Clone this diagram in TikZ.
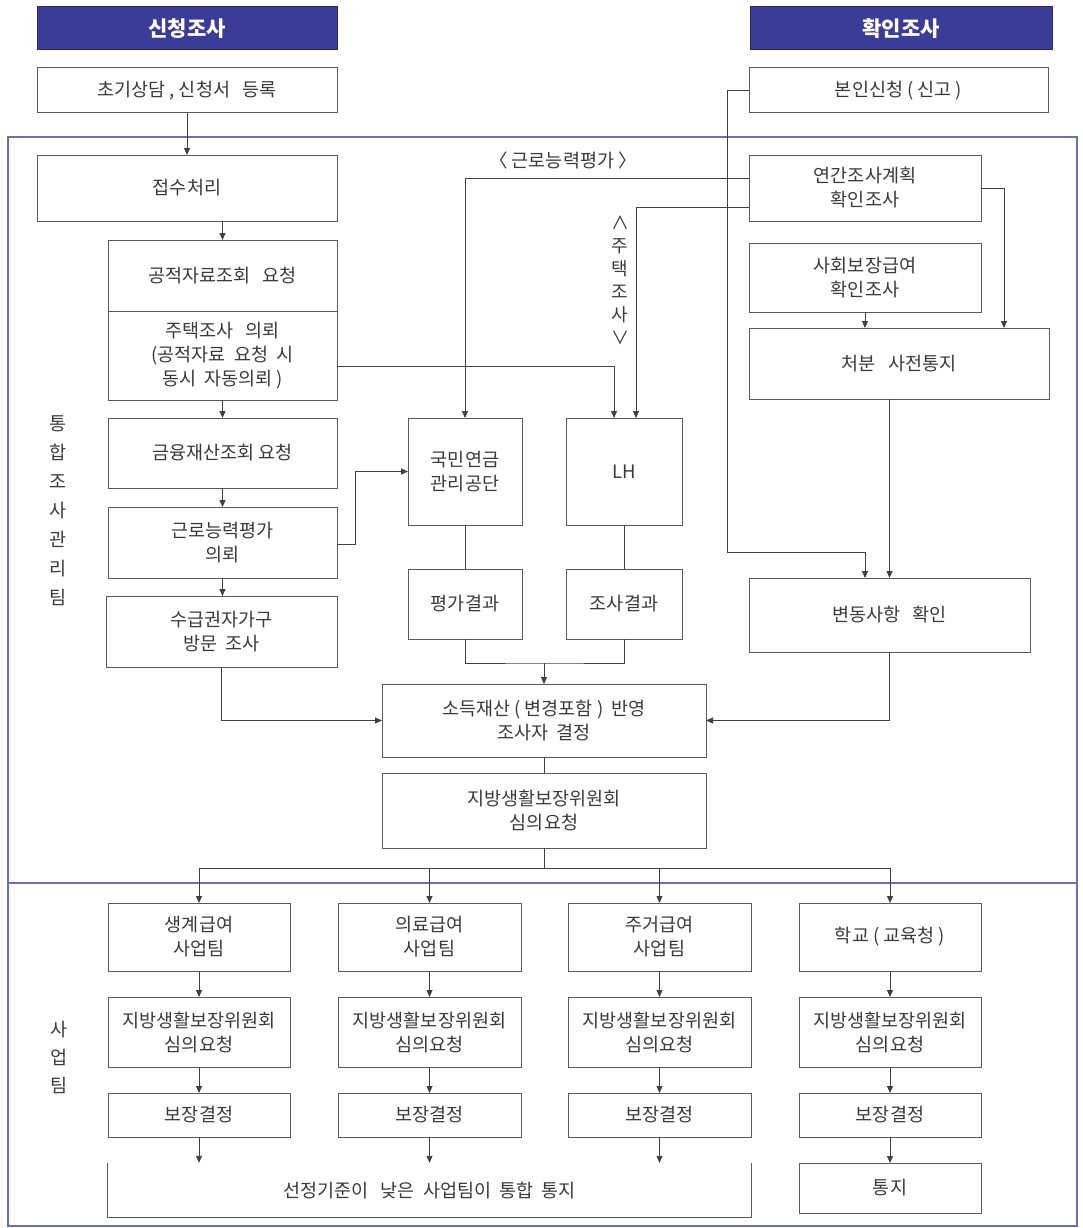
\documentclass[tikz,border=0pt]{standalone}
\usepackage{fontspec}
\newfontfamily\kr{Noto Sans CJK KR}
\usetikzlibrary{arrows.meta}
\definecolor{ttl}{HTML}{3B3B98}
\definecolor{frm}{HTML}{6B6BC4}
\definecolor{boxc}{HTML}{5A5A5A}
\definecolor{txtc}{HTML}{3A3A3A}
\definecolor{linec}{HTML}{404040}
\begin{document}
\begin{tikzpicture}[x=1pt,y=-1pt,
 box/.style={draw=boxc,line width=1pt,text=txtc,align=center,inner sep=0pt,outer sep=0pt,font=\kr\fontsize{18.5}{24}\selectfont},
 ttlbox/.style={fill=ttl,draw=ttl!70!black,line width=1pt,text=white,inner sep=0pt,outer sep=0pt,font=\kr\bfseries\fontsize{21}{25}\selectfont},
 conn/.style={draw=linec,line width=0.9pt},
 arr/.style={conn,-{Triangle[length=7pt,width=6pt]}},
 lbl/.style={text=txtc,inner sep=0pt,align=center,font=\kr\fontsize{18.5}{24}\selectfont}]
\useasboundingbox (0,0) rectangle (1083,1228);
% frame
\draw[frm,line width=1.8pt] (8,137) rectangle (1077,1226);
\draw[frm,line width=1.8pt] (8,883) -- (1077,883);
% titles
\node[ttlbox,minimum width=300pt,minimum height=43pt] (t1) at (187,28.5) {신청조사};
\node[ttlbox,minimum width=302pt,minimum height=43pt] (t2) at (901,28.5) {확인조사};
% left column
\node[box,minimum width=300pt,minimum height=45pt] (b0) at (187,90.5) {초기상담 , 신청서\ \ \ 등록};
\node[box,minimum width=300pt,minimum height=66pt] (b1) at (187,188) {접수처리};
\node[box,minimum width=229pt,minimum height=71pt] (b2) at (222.5,275.5) {공적자료조회\ \ \ 요청};
\node[box,minimum width=229pt,minimum height=89pt] (b3) at (222.5,355.5) {주택조사\ \ \ 의뢰\\(공적자료\ \ 요청\ \ 시\\동시\ \ 자동의뢰 )};
\node[box,minimum width=229pt,minimum height=70pt] (b4) at (222.5,453) {금융재산조회 요청};
\node[box,minimum width=229pt,minimum height=71pt] (b5) at (222.5,542.5) {근로능력평가\\의뢰};
\node[box,minimum width=231pt,minimum height=71pt] (b6) at (221.5,631.5) {수급권자가구\\방문\ \ 조사};
% middle
\node[box,minimum width=114pt,minimum height=107pt] (m1) at (465,471.5) {국민연금\\관리공단};
\node[box,minimum width=114pt,minimum height=70pt] (m2) at (465,604) {평가결과};
\node[box,minimum width=116pt,minimum height=107pt] (m3) at (624,471.5) {LH};
\node[box,minimum width=116pt,minimum height=70pt] (m4) at (624,604) {조사결과};
\node[box,minimum width=324pt,minimum height=73pt] (m5) at (544,720.5) {소득재산 ( 변경포함 )\ \ 반영\\조사자\ \ 결정};
\node[box,minimum width=324pt,minimum height=75pt] (m6) at (544,810.5) {지방생활보장위원회\\심의요청};
% right column
\node[box,minimum width=299pt,minimum height=45pt] (r0) at (898.5,90.5) {본인신청 ( 신고 )};
\node[box,minimum width=232pt,minimum height=66pt] (r1) at (865,188) {연간조사계획\\확인조사};
\node[box,minimum width=232pt,minimum height=69pt] (r2) at (865,277.5) {사회보장급여\\확인조사};
\node[box,minimum width=300pt,minimum height=71pt] (r3) at (899,363.5) {처분\ \ \ 사전통지};
\node[box,minimum width=281pt,minimum height=74pt] (r4) at (889.5,615) {변동사항\ \ \ 확인};
% labels
\node[lbl] (l1) at (563,160) {〈 근로능력평가 〉};
\node[lbl,font=\kr\fontsize{18}{23}\selectfont] (l2) at (620,280) {∧\\주\\택\\조\\사\\∨};
\node[lbl,font=\kr\fontsize{18.5}{29}\selectfont] (l3) at (58,511) {통\\합\\조\\사\\관\\리\\팀};
\node[lbl,font=\kr\fontsize{18.5}{28}\selectfont] (l4) at (59,1057) {사\\업\\팀};
% bottom section
\foreach \n/\cx/\w/\t in {1/199/182/{생계급여\\사업팀},2/429.5/183/{의료급여\\사업팀},3/659.5/183/{주거급여\\사업팀},4/890/182/{학교 ( 교육청 )}}{
  \node[box,minimum width=\w pt,minimum height=68pt] (c\n a) at (\cx,937) {\t};
  \node[box,minimum width=\w pt,minimum height=70pt] (c\n b) at (\cx,1032) {지방생활보장위원회\\심의요청};
  \node[box,minimum width=\w pt,minimum height=44pt] (c\n c) at (\cx,1115) {보장결정};
  \draw[arr] (c\n a.south) -- (c\n b.north);
  \draw[arr] (c\n b.south) -- (c\n c.north);
}
\node[lbl,minimum width=643pt,minimum height=54pt] (n1) at (429.5,1190) {선정기준이\ \ \ 낮은\ \ 사업팀이\ \ 통합\ \ 통지};
\draw[conn,draw=boxc,line width=1pt] (n1.north west) -- (n1.south west) -- (n1.south east) -- (n1.north east);
\node[box,minimum width=182pt,minimum height=50pt] (c4d) at (890,1188) {통지};
\foreach \n in {1,2,3}{\draw[arr] (c\n c.south) -- (c\n c.south |- n1.north);}
\draw[arr] (c4c.south) -- (c4d.north);
% connectors left column
\draw[arr] (b0.south) -- (b1.north);
\draw[arr] (b2.north |- b1.south) -- (b2.north);
\draw[arr] (b3.south) -- (b4.north);
\draw[arr] (b4.south) -- (b5.north);
\draw[arr] (b5.south) -- (b6.north -| b5.south);
\draw[arr] ([yshift=-2pt]b5.east) -- ++(18,0) |- (m1.west);
\draw[arr] ([yshift=-11pt]b3.east) -| ([xshift=-10pt]m3.north);
\draw[arr] ([yshift=10pt]r1.west) -| (m1.north);
\draw[arr] ([yshift=-19pt]r1.west) -| ([xshift=12pt]m3.north);
\draw[conn] (m1.south) -- (m2.north);
\draw[conn] (m3.south) -- (m4.north);
\coordinate (k2) at (544,663);
\draw[conn] (m2.south) |- (k2) -| (m4.south);
\draw[arr] (k2) -- (m5.north);
\draw[arr] (b6.south) |- (m5.west);
\draw[arr] (r4.south) |- (m5.east);
\draw[conn] (m5.south) -- (m6.north);
\coordinate (k3) at (544,868);
\draw[conn] (m6.south) -- (k3);
\foreach \n in {1,2,3,4}{\draw[arr] (k3) -| (c\n a.north);}
% right connectors
\coordinate (k1) at (727,552);
\draw[arr] (r0.west) -| (k1) -| ([xshift=-24.5pt]r4.north);
\draw[arr] (r1.east) -| ([xshift=105pt]r3.north);
\draw[arr] (r2.south) -- (r2.south |- r3.north);
\draw[arr] (r4.north |- r3.south) -- (r4.north);
\end{tikzpicture}
\end{document}
